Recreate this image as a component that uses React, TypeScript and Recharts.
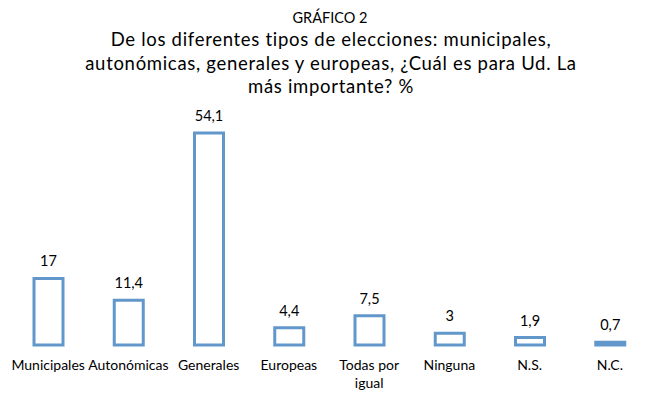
import React from 'react';
import { BarChart, Bar, XAxis, YAxis, LabelList, Text } from 'recharts';

const categories = ['Municipales', 'Autonómicas', 'Generales', 'Europeas', 'Todas por igual', 'Ninguna', 'N.S.', 'N.C.'];
const values = [17, 11.4, 54.1, 4.4, 7.5, 3, 1.9, 0.7];
const valueLabels = ['17', '11,4', '54,1', '4,4', '7,5', '3', '1,9', '0,7'];
const titleText = 'GRÁFICO 2';
const subtitleLines = [
  'De los diferentes tipos de elecciones: municipales,',
  'autonómicas, generales y europeas, ¿Cuál es para Ud. La',
  'más importante? %',
];

const data = categories.map((c, i) => ({ name: c, value: values[i], label: valueLabels[i] }));

const FONT = 'Lato, "Open Sans", sans-serif';
const BLUE = '#6297CB';

const Tick = (props: any) => {
  const { x, y, payload } = props;
  return (
    <Text
      x={x}
      y={y}
      width={80}
      textAnchor="middle"
      verticalAnchor="start"
      lineHeight={18}
      fill="#000"
      fontSize={14}
      fontFamily={FONT}
      style={{ fontSize: 14, fontFamily: FONT }}
    >
      {payload.value}
    </Text>
  );
};

export default function App() {
  return (
    <div style={{ position: 'absolute', left: 0, top: 0, width: 655, height: 400, background: '#fff' }}>
      <BarChart
        width={655}
        height={400}
        data={data}
        margin={{ top: 110, right: 5, bottom: 15, left: 8 }}
        barCategoryGap={0}
      >
        <YAxis hide domain={[0, 60]} />
        <XAxis
          dataKey="name"
          axisLine={false}
          tickLine={false}
          interval={0}
          height={40}
          tickMargin={9}
          tick={<Tick />}
        />
        <Bar dataKey="value" fill="#fff" stroke={BLUE} strokeWidth={3} barSize={29} isAnimationActive={false}>
          <LabelList
            dataKey="label"
            position="top"
            offset={12}
            fill="#000"
            style={{ fontSize: 14.5, fontFamily: FONT }}
          />
        </Bar>
      </BarChart>
      <svg width={655} height={110} style={{ position: 'absolute', left: 0, top: 0, pointerEvents: 'none' }}>
        <text x={330} y={23} textAnchor="middle" fontFamily={FONT} fontSize={14.5} fill="#000">
          {titleText}
        </text>
        {subtitleLines.map((l, i) => (
          <text
            key={i}
            x={331}
            y={46 + i * 23.5}
            textAnchor="middle"
            fontFamily={FONT}
            fontSize={18.5}
            letterSpacing={0.7}
            fill="#000"
          >
            {l}
          </text>
        ))}
      </svg>
    </div>
  );
}
